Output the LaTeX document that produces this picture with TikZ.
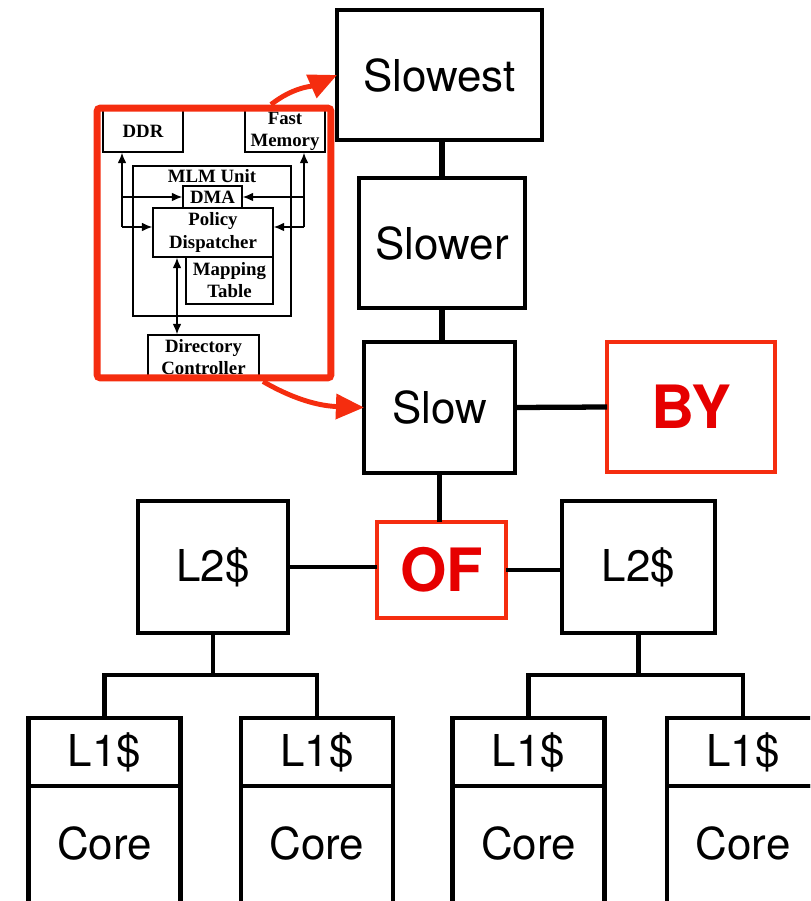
\documentclass[tikz,border=0pt]{standalone}
\usepackage{fontspec}
\usetikzlibrary{arrows.meta}
\usetikzlibrary{positioning}
\newfontfamily\helvfont{TeX Gyre Heros}
\newfontfamily\romanfont{Liberation Serif}
\definecolor{boxred}{RGB}{245,45,15}
\definecolor{txtred}{RGB}{230,0,0}

\begin{document}
\begin{tikzpicture}[x=0.02cm, y=-0.02cm,
    level/.style={draw, line width=2.5pt, inner sep=0pt, outer sep=0pt, font=\helvfont\fontsize{25}{30}\selectfont},
    redbox/.style={draw=boxred, line width=2pt, inner sep=0pt, outer sep=0pt, text=txtred, font=\helvfont\bfseries\fontsize{34}{40}\selectfont},
    part/.style={draw, line width=0.8pt, inner sep=0pt, align=center, font=\romanfont\bfseries\fontsize{10.7}{12.6}\selectfont},
    link/.style={line width=2.5pt},
    tip/.style={line width=0.8pt, -{Latex[length=6pt,width=5pt]}},
    swoop/.style={draw=boxred, line width=2.8pt, -{Triangle[length=16pt,width=14pt]}}]
        \clip (0,0) rectangle (810,901);
        \useasboundingbox (0,0) rectangle (810,901);

        % Memory levels
        \node[level, minimum width=4.1cm, minimum height=2.6cm] (slowest) at (439.5,75) {Slowest};
        \node[level, minimum width=3.32cm, minimum height=2.6cm] (slower) at (442,243) {Slower};
        \node[level, minimum width=3.02cm, minimum height=2.62cm] (slow) at (439.5,407.5) {Slow};
        \node[redbox, minimum width=3.36cm, minimum height=2.6cm] (by) at (691,407) {BY};
        \node[redbox, minimum width=2.58cm, minimum height=1.92cm] (of) at (441.5,570) {OF};
        \node[level, minimum width=3.0cm, minimum height=2.64cm] (l2l) at (213,567) {L2\$};
        \node[level, minimum width=3.06cm, minimum height=2.64cm] (l2r) at (638.5,567) {L2\$};

        \draw[link, line width=3.4pt] (slower.north) -- (slower.north |- slowest.south);
        \draw[link, line width=3.4pt] (slower.south) -- (slower.south |- slow.north);
        \draw[link, line width=3pt] (slow.east) -- (by.west);
        \draw[link] (slow.south) -- (slow.south |- of.north);
        \draw[link] (l2l.east) -- (l2l.east -| of.west);
        \draw[link] (of.east) -- (of.east -| l2r.west);

        % Cores
        \foreach \x/\n in {104.5/a, 317/b, 528.5/c, 743/d} {
            \node[level, minimum width=3.04cm, minimum height=1.36cm] (l1\n) at (\x,752) {L1\$};
            \node[level, minimum width=3.04cm, minimum height=2.6cm, text depth=0.3cm, anchor=north] (core\n) at (l1\n.south) {Core};
        }
        \coordinate (jl) at (213,675);
        \coordinate (jr) at (638.5,675);
        \draw[link] (l2l.south) -- (jl);
        \draw[link] (l1a.north) |- (jl) -| (l1b.north);
        \draw[link] (l2r.south) -- (jr);
        \draw[link] (l1c.north) |- (jr) -| (l1d.north);

        % MLM inset
        \node[part, minimum width=1.6cm, minimum height=0.84cm] (ddr) at (143,131) {DDR};
        \node[part, minimum width=1.6cm, minimum height=0.84cm] (fast) at (285,131) {Fast\\Memory};
        \node[part, minimum width=3.16cm, minimum height=3.0cm] (mlm) at (212,241) {};
        \node[part, draw=none, anchor=north] at ([yshift=-0.06cm]mlm.north) {MLM Unit};
        \node[part, minimum width=1.18cm, minimum height=0.44cm] (dma) at (212.5,197) {DMA};
        \node[part, minimum width=2.4cm, minimum height=0.98cm] (policy) at (213,232.5) {Policy\\Dispatcher};
        \node[part, minimum width=1.74cm, minimum height=0.94cm] (map) at (229.5,280.5) {Mapping\\Table};
        \node[part, minimum width=2.22cm, minimum height=0.88cm] (dir) at (203.5,357) {Directory\\Controller};

        \coordinate (lx) at (122,227);
        \coordinate (rx) at (304,227);
        \coordinate (dx) at (177,0);
        \draw[tip] (lx) -- (lx |- ddr.south);
        \draw[tip] (lx) -- (lx -| policy.west);
        \draw[tip] (lx |- dma.west) -- (dma.west);
        \draw[tip] (rx) -- (rx |- fast.south);
        \draw[tip] (rx) -- (rx -| policy.east);
        \draw[tip] (rx |- dma.east) -- (dma.east);
        \draw[tip, {Latex[length=6pt,width=5pt]}-{Latex[length=6pt,width=5pt]}] (dx |- policy.south) -- (dx |- dir.north);

        \node[draw=boxred, line width=4pt, rounded corners=2pt, minimum width=4.68cm, minimum height=5.4cm] (inset) at (214,243) {};
        \draw[swoop] ([xshift=1.14cm]inset.north) to[out=38, in=204] (slowest.west);
        \draw[swoop] ([xshift=0.98cm]inset.south) to[out=-30, in=178] (slow.west);
    \end{tikzpicture}
\end{document}
